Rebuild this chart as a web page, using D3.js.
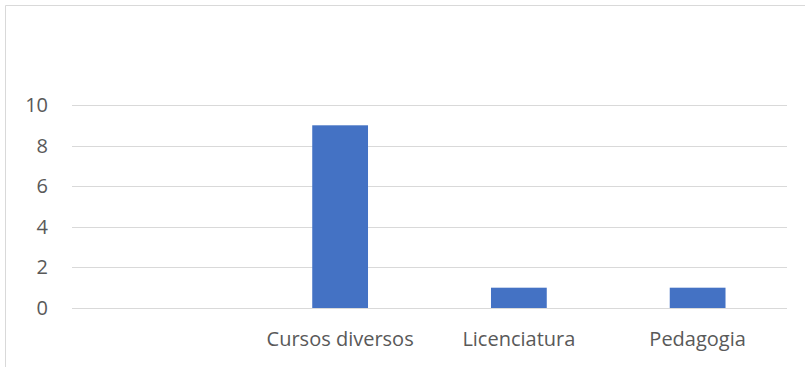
<!DOCTYPE html>
<html>
<head>
<meta charset="utf-8">
<script src="https://cdn.jsdelivr.net/npm/d3@7"></script>
<style>
  html, body { margin: 0; padding: 0; background: #fff; }
  svg { display: block; }
  text { font-family: "Open Sans", "Noto Sans", sans-serif; fill: #595959; }
</style>
</head>
<body>
<svg id="chart" width="805" height="367"></svg>
<script>
// Categories (first one is an empty category) and their counts
const categories = ["", "Cursos diversos", "Licenciatura", "Pedagogia"];
const values = [0, 9, 1, 1];
const yTicks = [0, 2, 4, 6, 8, 10];

const FONT = "'Open Sans', 'Noto Sans', sans-serif";
const svg = d3.select("#chart");
const W = 805, H = 367;
const plot = { left: 72, right: 787, top: 105, bottom: 308 };

// Chart-area frame (only left and top edges fall within the view)
svg.append("path")
  .attr("d", `M5.5,${H} V5.5 H${W}`)
  .attr("fill", "none")
  .attr("stroke", "#d9d9d9")
  .attr("stroke-width", 1);

const x = d3.scaleBand()
  .domain(categories.map((c, i) => i))
  .range([plot.left, plot.right])
  .paddingInner(0.688)
  .paddingOuter(0.344);

const y = d3.scaleLinear().domain([0, 10]).range([plot.bottom, plot.top]);

// Horizontal gridlines
svg.append("g")
  .selectAll("line")
  .data(yTicks)
  .join("line")
  .attr("x1", plot.left)
  .attr("x2", plot.right)
  .attr("y1", d => Math.round(y(d)) + 0.5)
  .attr("y2", d => Math.round(y(d)) + 0.5)
  .attr("stroke", "#d9d9d9")
  .attr("stroke-width", 1);

// Y axis labels
const yAxis = d3.axisLeft(y).tickValues(yTicks).tickSize(0).tickPadding(0);
const yg = svg.append("g").attr("transform", `translate(48,0)`).call(yAxis);
yg.select(".domain").remove();
yg.selectAll("text")
  .attr("font-size", 20)
  .style("font-family", FONT)
  .attr("fill", "#595959");

// Bars
svg.append("g")
  .selectAll("rect")
  .data(values)
  .join("rect")
  .attr("x", (d, i) => x(i))
  .attr("width", x.bandwidth())
  .attr("y", d => y(d))
  .attr("height", d => y(0) - y(d))
  .attr("fill", "#4472c4");

// Category labels
const bandScale = d3.scaleBand().domain(categories.map((c, i) => i)).range([plot.left, plot.right]);
const xAxis = d3.axisBottom(bandScale).tickSize(0).tickPadding(0).tickFormat(i => categories[i]);
const xg = svg.append("g").attr("transform", `translate(0,${plot.bottom + 24})`).call(xAxis);
xg.select(".domain").remove();
xg.selectAll("text")
  .attr("font-size", 20)
  .style("font-family", FONT)
  .attr("fill", "#595959");
</script>
</body>
</html>
